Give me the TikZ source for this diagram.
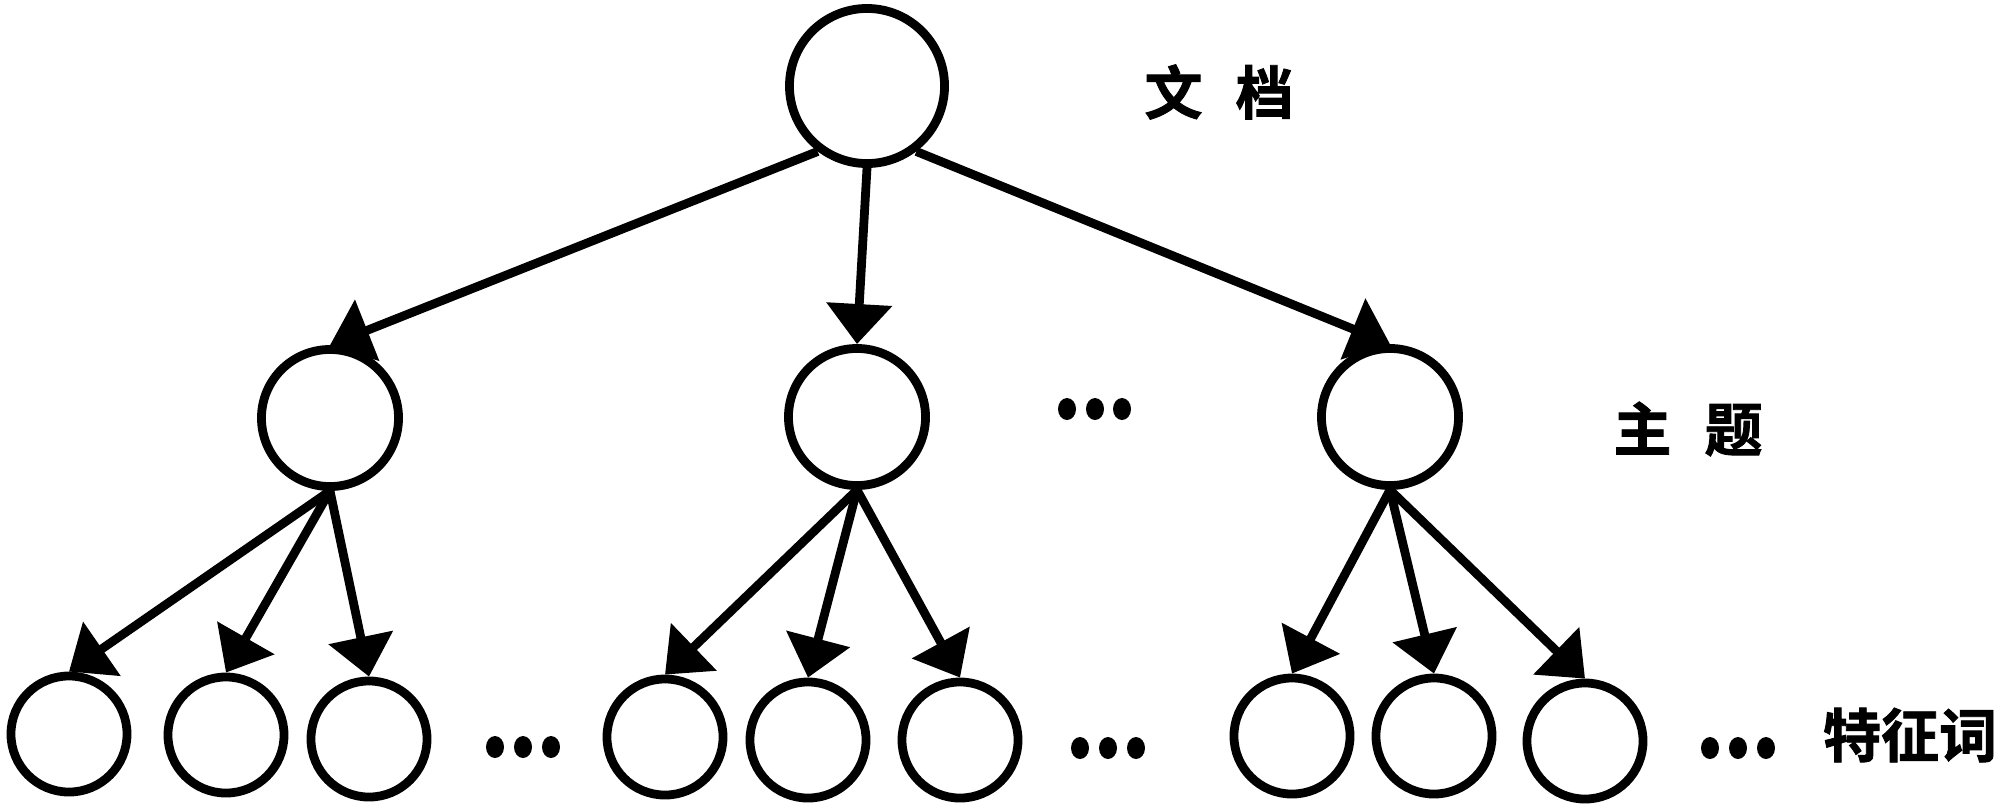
\documentclass[tikz,border=0pt]{standalone}
\usepackage{fontspec}
\newfontfamily\cjk{Noto Sans CJK SC}[BoldFont={Noto Sans CJK SC Bold},BoldFeatures={FakeBold=1.5}]
\usetikzlibrary{arrows.meta}
\begin{document}
\begin{tikzpicture}[x=0.01cm,y=-0.01cm,
  lw/.style={line width=2.5pt},
  topnode/.style={circle,draw,lw,minimum size=1.55cm,inner sep=0pt},
  midnode/.style={circle,draw,lw,minimum size=1.37cm,inner sep=0pt},
  leafnode/.style={circle,draw,lw,minimum size=1.16cm,inner sep=0pt},
  edge/.style={lw,-{Triangle[length=0.4cm,width=0.64cm]}},
  lbl/.style={font=\cjk\bfseries\fontsize{16.5pt}{18pt}\selectfont,inner sep=0pt},
  dot/.style={fill=black}]
\useasboundingbox (0,0) rectangle (2000,808);
% nodes
\node[topnode] (doc) at (867,86) {};
\node[midnode] (t1) at (330,418) {};
\node[midnode] (t2) at (857,417) {};
\node[midnode] (t3) at (1390,417) {};
\node[leafnode] (w1) at (69,734) {};
\node[leafnode] (w2) at (226,735) {};
\node[leafnode] (w3) at (369,739) {};
\node[leafnode] (w4) at (665,737) {};
\node[leafnode] (w5) at (808,740) {};
\node[leafnode] (w6) at (960,740) {};
\node[leafnode] (w7) at (1292,736) {};
\node[leafnode] (w8) at (1434,736) {};
\node[leafnode] (w9) at (1585,741) {};
% labels
\node[lbl] (ldoc) at (1219,92) {文\hspace{0.33cm}档};
\node[lbl] (ltopic) at (1688,429) {主\hspace{0.33cm}题};
\node[lbl] (lword) at (1910,735) {特征词};
% ellipsis dots
\foreach \x in {1067,1095,1122} \fill[dot] (\x,409) ellipse [x radius=9, y radius=-11];
\foreach \x in {495,523,551} \fill[dot] (\x,747) ellipse [x radius=9, y radius=-11];
\foreach \x in {1080,1108,1136} \fill[dot] (\x,748) ellipse [x radius=9, y radius=-11];
\foreach \x in {1710,1738,1766} \fill[dot] (\x,748) ellipse [x radius=9, y radius=-11];
% edges
\draw[edge] (doc.233) -- (t1.north);
\draw[edge] (doc.south) -- (t2.north);
\draw[edge] (doc.307) -- (t3.north);
\draw[edge] (t1.south) -- (w1.north);
\draw[edge] (t1.south) -- (w2.north);
\draw[edge] (t1.south) -- (w3.north);
\draw[edge] (t2.south) -- (w4.north);
\draw[edge] (t2.south) -- (w5.north);
\draw[edge] (t2.south) -- (w6.north);
\draw[edge] (t3.south) -- (w7.north);
\draw[edge] (t3.south) -- (w8.north);
\draw[edge] (t3.south) -- (w9.north);
\end{tikzpicture}
\end{document}
